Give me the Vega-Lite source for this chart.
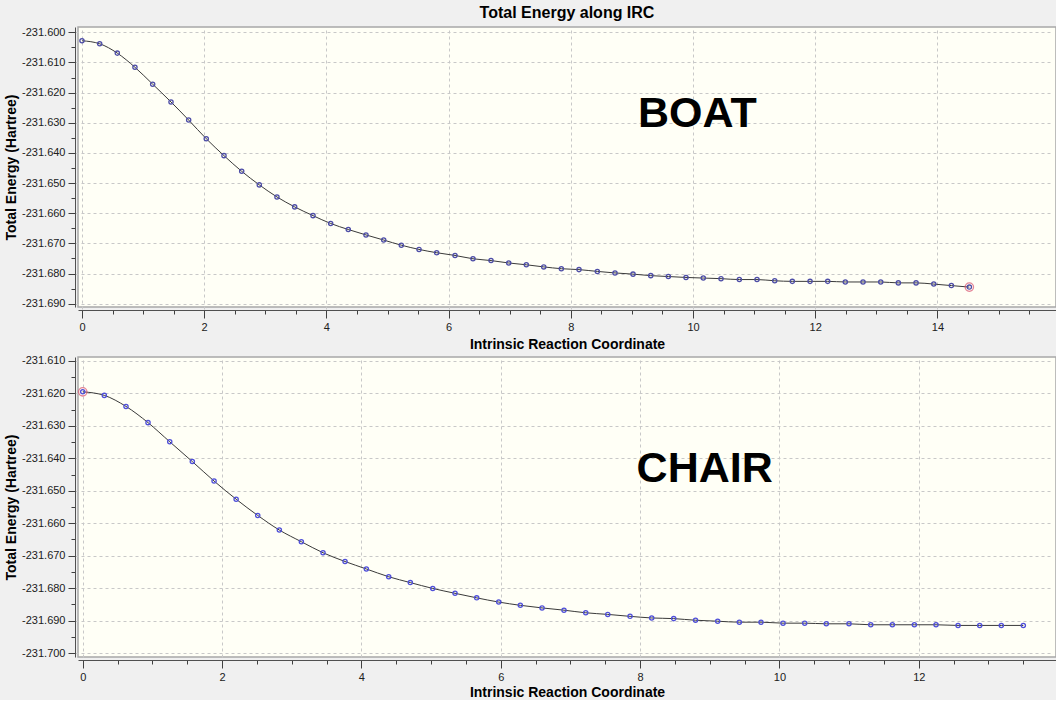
{
  "$schema": "https://vega.github.io/schema/vega-lite/v6.json",
  "background": "#f0f0f0",
  "padding": {"left": 3, "top": 4, "right": 0, "bottom": 0},
  "spacing": 2,
  "config": {
    "font": "Liberation Sans",
    "view": {"fill": "#fffff6", "stroke": "#a8a8a8", "strokeWidth": 1.5},
    "axis": {
      "labelFont": "Liberation Sans",
      "labelFontSize": 11,
      "labelColor": "#202020",
      "titleFont": "Liberation Sans",
      "titleFontSize": 14,
      "titleFontWeight": "bold",
      "titleColor": "#000000",
      "domainColor": "#505050",
      "tickColor": "#404040",
      "gridColor": "#c8c8c8",
      "gridDash": [3, 3],
      "gridWidth": 1,
      "offset": 3
    },
    "title": {"font": "Liberation Sans", "fontSize": 16, "fontWeight": "bold", "color": "#000000", "offset": 5}
  },
  "datasets": {
    "boat": [
      {"irc": 0.000, "energy": -231.6028, "mark": false},
      {"irc": 0.290, "energy": -231.6038, "mark": false},
      {"irc": 0.578, "energy": -231.6069, "mark": false},
      {"irc": 0.867, "energy": -231.6116, "mark": false},
      {"irc": 1.157, "energy": -231.6172, "mark": false},
      {"irc": 1.457, "energy": -231.6231, "mark": false},
      {"irc": 1.746, "energy": -231.6291, "mark": false},
      {"irc": 2.034, "energy": -231.6353, "mark": false},
      {"irc": 2.324, "energy": -231.6409, "mark": false},
      {"irc": 2.614, "energy": -231.6461, "mark": false},
      {"irc": 2.902, "energy": -231.6506, "mark": false},
      {"irc": 3.191, "energy": -231.6546, "mark": false},
      {"irc": 3.481, "energy": -231.6579, "mark": false},
      {"irc": 3.781, "energy": -231.6608, "mark": false},
      {"irc": 4.070, "energy": -231.6634, "mark": false},
      {"irc": 4.358, "energy": -231.6654, "mark": false},
      {"irc": 4.648, "energy": -231.6672, "mark": false},
      {"irc": 4.938, "energy": -231.6689, "mark": false},
      {"irc": 5.226, "energy": -231.6706, "mark": false},
      {"irc": 5.516, "energy": -231.6720, "mark": false},
      {"irc": 5.805, "energy": -231.6731, "mark": false},
      {"irc": 6.105, "energy": -231.6740, "mark": false},
      {"irc": 6.399, "energy": -231.6751, "mark": false},
      {"irc": 6.694, "energy": -231.6757, "mark": false},
      {"irc": 6.984, "energy": -231.6765, "mark": false},
      {"irc": 7.272, "energy": -231.6771, "mark": false},
      {"irc": 7.557, "energy": -231.6778, "mark": false},
      {"irc": 7.845, "energy": -231.6784, "mark": false},
      {"irc": 8.134, "energy": -231.6787, "mark": false},
      {"irc": 8.434, "energy": -231.6793, "mark": false},
      {"irc": 8.723, "energy": -231.6798, "mark": false},
      {"irc": 9.018, "energy": -231.6802, "mark": false},
      {"irc": 9.308, "energy": -231.6807, "mark": false},
      {"irc": 9.596, "energy": -231.6810, "mark": false},
      {"irc": 9.885, "energy": -231.6813, "mark": false},
      {"irc": 10.168, "energy": -231.6815, "mark": false},
      {"irc": 10.458, "energy": -231.6817, "mark": false},
      {"irc": 10.758, "energy": -231.6820, "mark": false},
      {"irc": 11.047, "energy": -231.6820, "mark": false},
      {"irc": 11.337, "energy": -231.6824, "mark": false},
      {"irc": 11.625, "energy": -231.6826, "mark": false},
      {"irc": 11.915, "energy": -231.6826, "mark": false},
      {"irc": 12.204, "energy": -231.6826, "mark": false},
      {"irc": 12.492, "energy": -231.6828, "mark": false},
      {"irc": 12.782, "energy": -231.6828, "mark": false},
      {"irc": 13.072, "energy": -231.6828, "mark": false},
      {"irc": 13.360, "energy": -231.6831, "mark": false},
      {"irc": 13.650, "energy": -231.6831, "mark": false},
      {"irc": 13.940, "energy": -231.6835, "mark": false},
      {"irc": 14.228, "energy": -231.6840, "mark": false},
      {"irc": 14.522, "energy": -231.6845, "mark": true}
    ],
    "chair": [
      {"irc": 0.000, "energy": -231.6195, "mark": true},
      {"irc": 0.310, "energy": -231.6206, "mark": false},
      {"irc": 0.621, "energy": -231.6240, "mark": false},
      {"irc": 0.937, "energy": -231.6290, "mark": false},
      {"irc": 1.249, "energy": -231.6349, "mark": false},
      {"irc": 1.573, "energy": -231.6410, "mark": false},
      {"irc": 1.885, "energy": -231.6470, "mark": false},
      {"irc": 2.202, "energy": -231.6526, "mark": false},
      {"irc": 2.512, "energy": -231.6576, "mark": false},
      {"irc": 2.822, "energy": -231.6621, "mark": false},
      {"irc": 3.138, "energy": -231.6657, "mark": false},
      {"irc": 3.449, "energy": -231.6691, "mark": false},
      {"irc": 3.765, "energy": -231.6718, "mark": false},
      {"irc": 4.071, "energy": -231.6741, "mark": false},
      {"irc": 4.392, "energy": -231.6765, "mark": false},
      {"irc": 4.702, "energy": -231.6783, "mark": false},
      {"irc": 5.024, "energy": -231.6801, "mark": false},
      {"irc": 5.344, "energy": -231.6816, "mark": false},
      {"irc": 5.655, "energy": -231.6830, "mark": false},
      {"irc": 5.971, "energy": -231.6843, "mark": false},
      {"irc": 6.281, "energy": -231.6853, "mark": false},
      {"irc": 6.593, "energy": -231.6861, "mark": false},
      {"irc": 6.908, "energy": -231.6868, "mark": false},
      {"irc": 7.220, "energy": -231.6876, "mark": false},
      {"irc": 7.536, "energy": -231.6881, "mark": false},
      {"irc": 7.856, "energy": -231.6887, "mark": false},
      {"irc": 8.167, "energy": -231.6892, "mark": false},
      {"irc": 8.483, "energy": -231.6894, "mark": false},
      {"irc": 8.796, "energy": -231.6899, "mark": false},
      {"irc": 9.114, "energy": -231.6902, "mark": false},
      {"irc": 9.425, "energy": -231.6905, "mark": false},
      {"irc": 9.736, "energy": -231.6905, "mark": false},
      {"irc": 10.052, "energy": -231.6908, "mark": false},
      {"irc": 10.363, "energy": -231.6908, "mark": false},
      {"irc": 10.673, "energy": -231.6910, "mark": false},
      {"irc": 10.999, "energy": -231.6910, "mark": false},
      {"irc": 11.311, "energy": -231.6913, "mark": false},
      {"irc": 11.621, "energy": -231.6913, "mark": false},
      {"irc": 11.937, "energy": -231.6913, "mark": false},
      {"irc": 12.248, "energy": -231.6913, "mark": false},
      {"irc": 12.564, "energy": -231.6915, "mark": false},
      {"irc": 12.875, "energy": -231.6915, "mark": false},
      {"irc": 13.185, "energy": -231.6915, "mark": false},
      {"irc": 13.501, "energy": -231.6915, "mark": false}
    ],
    "boatLabel": [{"irc": 9.1, "energy": -231.6271, "text": "BOAT"}],
    "chairLabel": [{"irc": 7.95, "energy": -231.6433, "text": "CHAIR"}]
  },
  "vconcat": [
    {
      "width": 978,
      "height": 280,
      "title": {"text": "Total Energy along IRC", "anchor": "middle"},
      "layer": [
        {
          "data": {"name": "boat"},
          "mark": {"type": "line", "interpolate": "monotone", "color": "#3a3a3a", "strokeWidth": 1},
          "encoding": {
            "x": {
              "field": "irc", "type": "quantitative",
              "scale": {"domain": [-0.065, 15.94], "nice": false, "zero": false},
              "axis": {
                "title": "Intrinsic Reaction Coordinate",
                "titlePadding": 5,
                "tickCount": 200,
                "labelOverlap": false,
                "labelFlush": false,
                "values": [0,0.5,1,1.5,2,2.5,3,3.5,4,4.5,5,5.5,6,6.5,7,7.5,8,8.5,9,9.5,10,10.5,11,11.5,12,12.5,13,13.5,14,14.5,15,15.5],
                "labelExpr": "datum.value % 2 == 0 ? format(datum.value, 'd') : ''",
                "tickSize": {"condition": {"test": "datum.value % 2 == 0", "value": 8}, "value": 4},
                "gridOpacity": {"condition": {"test": "datum.value % 2 == 0", "value": 1}, "value": 0},
                "labelPadding": 3
              }
            },
            "y": {
              "field": "energy", "type": "quantitative",
              "scale": {"domain": [-231.6911, -231.59824], "nice": false, "zero": false},
              "axis": {
                "title": "Total Energy (Hartree)",
                "titlePadding": 3,
                "tickCount": 200,
                "labelOverlap": false,
                "labelFlush": false,
                "values": [-231.69,-231.685,-231.68,-231.675,-231.67,-231.665,-231.66,-231.655,-231.65,-231.645,-231.64,-231.635,-231.63,-231.625,-231.62,-231.615,-231.61,-231.605,-231.6],
                "labelExpr": "abs(round(datum.value*1000)) % 10 == 0 ? replace(format(datum.value, '.3f'), '\u2212', '-') : ''",
                "tickSize": {"condition": {"test": "abs(round(datum.value*1000)) % 10 == 0", "value": 7}, "value": 4},
                "gridOpacity": {"condition": {"test": "abs(round(datum.value*1000)) % 10 == 0", "value": 1}, "value": 0},
                "labelPadding": 3
              }
            }
          }
        },
        {
          "data": {"name": "boat"},
          "transform": [{"filter": "datum.mark"}],
          "mark": {"type": "point", "shape": "circle", "filled": false, "stroke": "#d9506e", "strokeWidth": 1.3, "size": 70},
          "encoding": {"x": {"field": "irc", "type": "quantitative"}, "y": {"field": "energy", "type": "quantitative"}}
        },
        {
          "data": {"name": "boat"},
          "mark": {"type": "point", "shape": "circle", "filled": false, "stroke": "#4d4da6", "strokeWidth": 1.3, "size": 18, "opacity": 1},
          "encoding": {"x": {"field": "irc", "type": "quantitative"}, "y": {"field": "energy", "type": "quantitative"}}
        },
        {
          "data": {"name": "boatLabel"},
          "mark": {"type": "text", "align": "left", "baseline": "middle", "font": "Liberation Sans", "fontSize": 43, "fontWeight": "bold", "color": "#000000"},
          "encoding": {"x": {"field": "irc", "type": "quantitative"}, "y": {"field": "energy", "type": "quantitative"}, "text": {"field": "text"}}
        }
      ]
    },
    {
      "width": 978,
      "height": 300,
      "layer": [
        {
          "data": {"name": "chair"},
          "mark": {"type": "line", "interpolate": "monotone", "color": "#3a3a3a", "strokeWidth": 1},
          "encoding": {
            "x": {
              "field": "irc", "type": "quantitative",
              "scale": {"domain": [-0.068, 13.97], "nice": false, "zero": false},
              "axis": {
                "title": "Intrinsic Reaction Coordinate",
                "titlePadding": 3,
                "tickCount": 200,
                "labelOverlap": false,
                "labelFlush": false,
                "values": [0,0.5,1,1.5,2,2.5,3,3.5,4,4.5,5,5.5,6,6.5,7,7.5,8,8.5,9,9.5,10,10.5,11,11.5,12,12.5,13,13.5],
                "labelExpr": "datum.value % 2 == 0 ? format(datum.value, 'd') : ''",
                "tickSize": {"condition": {"test": "datum.value % 2 == 0", "value": 8}, "value": 4},
                "gridOpacity": {"condition": {"test": "datum.value % 2 == 0", "value": 1}, "value": 0},
                "labelPadding": 3
              }
            },
            "y": {
              "field": "energy", "type": "quantitative",
              "scale": {"domain": [-231.70123, -231.60877], "nice": false, "zero": false},
              "axis": {
                "title": "Total Energy (Hartree)",
                "titlePadding": 3,
                "tickCount": 200,
                "labelOverlap": false,
                "labelFlush": false,
                "values": [-231.7,-231.695,-231.69,-231.685,-231.68,-231.675,-231.67,-231.665,-231.66,-231.655,-231.65,-231.645,-231.64,-231.635,-231.63,-231.625,-231.62,-231.615,-231.61],
                "labelExpr": "abs(round(datum.value*1000)) % 10 == 0 ? replace(format(datum.value, '.3f'), '\u2212', '-') : ''",
                "tickSize": {"condition": {"test": "abs(round(datum.value*1000)) % 10 == 0", "value": 7}, "value": 4},
                "gridOpacity": {"condition": {"test": "abs(round(datum.value*1000)) % 10 == 0", "value": 1}, "value": 0},
                "labelPadding": 3
              }
            }
          }
        },
        {
          "data": {"name": "chair"},
          "transform": [{"filter": "datum.mark"}],
          "mark": {"type": "point", "shape": "circle", "filled": false, "stroke": "#d9506e", "strokeWidth": 1.3, "size": 70},
          "encoding": {"x": {"field": "irc", "type": "quantitative"}, "y": {"field": "energy", "type": "quantitative"}}
        },
        {
          "data": {"name": "chair"},
          "mark": {"type": "point", "shape": "circle", "filled": false, "stroke": "#4f4fd8", "strokeWidth": 1.3, "size": 18, "opacity": 1},
          "encoding": {"x": {"field": "irc", "type": "quantitative"}, "y": {"field": "energy", "type": "quantitative"}}
        },
        {
          "data": {"name": "chairLabel"},
          "mark": {"type": "text", "align": "left", "baseline": "middle", "font": "Liberation Sans", "fontSize": 43, "fontWeight": "bold", "color": "#000000"},
          "encoding": {"x": {"field": "irc", "type": "quantitative"}, "y": {"field": "energy", "type": "quantitative"}, "text": {"field": "text"}}
        }
      ]
    }
  ]
}
